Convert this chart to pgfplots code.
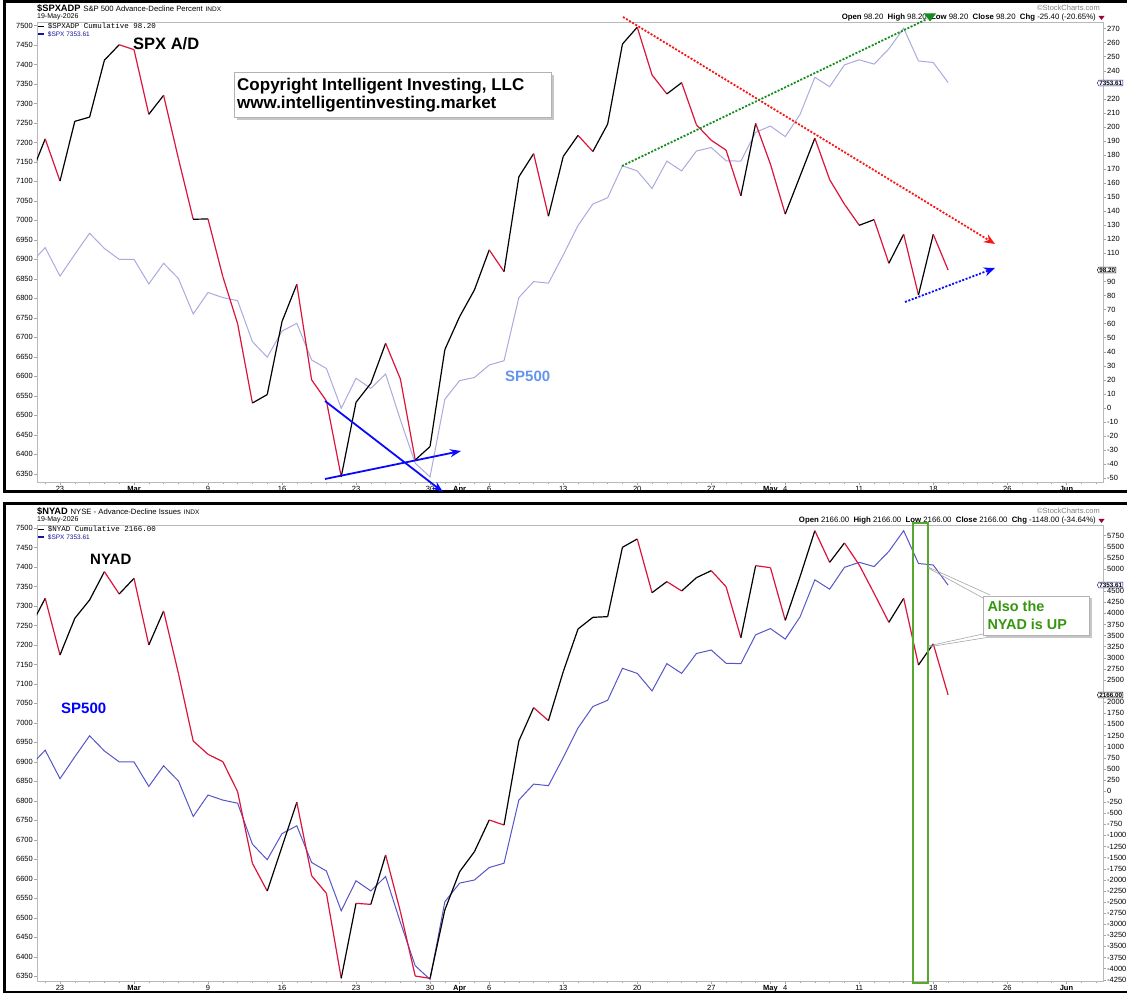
\documentclass[border=0pt]{standalone}
\usepackage{pgfplots}
\pgfplotsset{compat=1.18}
\usepackage{pgfplotstable}
\usepackage{fontspec}
\setmainfont{Liberation Sans}
\setmonofont{Liberation Mono}
\usetikzlibrary{arrows.meta,shapes.symbols}

\definecolor{adred}{RGB}{220,20,60}
\definecolor{spxlight}{RGB}{170,170,222}
\definecolor{spxblue}{RGB}{85,85,200}
\definecolor{navyl}{RGB}{20,20,150}
\definecolor{calloutgreen}{RGB}{55,150,15}
\definecolor{boxgreen}{RGB}{85,170,45}
\definecolor{cornblue}{RGB}{100,149,237}
\definecolor{arrowblue}{RGB}{10,10,250}
\definecolor{dotred}{RGB}{250,20,20}
\definecolor{dotgreen}{RGB}{20,140,30}
\definecolor{chgred}{RGB}{160,0,50}

\pgfplotstableread{
i v
-2 6890
-1 6930
0 6857
1 6913
2 6967
3 6928
4 6900
5 6900
6 6837
7 6890
8 6851
9 6760
10 6815
11 6802
12 6794
13 6689
14 6649
15 6716
16 6736
17 6642
18 6620
19 6518
20 6595
21 6569
22 6606
23 6488
24 6377
25 6342
26 6541
27 6589
28 6597
29 6629
30 6640
31 6802
32 6843
33 6839
34 6911
35 6987
36 7042
37 7058
38 7140
39 7127
40 7082
41 7152
42 7127
43 7178
44 7187
45 7153
46 7152
47 7226
48 7242
49 7215
50 7272
51 7367
52 7343
53 7399
54 7412
55 7401
56 7440
57 7493
58 7409
59 7405
60 7353.61
}\spxdata

\pgfplotstableread{
i a m
-2 165 1
-1 191.5 0
0 161.5 1
1 204 1
2 207 1
3 247.5 1
4 258.5 0
5 255 0
6 209 1
7 222.5 0
8 177.5 0
9 134.3 1
10 134.5 0
11 93.5 0
12 60 0
13 3.5 1
14 9.5 1
15 61.5 1
16 88 0
17 20 0
18 5 0
19 -49 1
20 4 1
21 17.5 1
22 46 0
23 20.5 0
24 -37 1
25 -27.5 1
26 41.5 1
27 65 1
28 84 1
29 112.5 0
30 97 1
31 164.5 1
32 181 0
33 136.5 1
34 179 1
35 194 0
36 182.5 1
37 202 1
38 259 1
39 271 0
40 237 0
41 223.5 1
42 231.5 0
43 201.5 0
44 190.5 0
45 183.5 0
46 151 1
47 202.5 0
48 173.5 0
49 138 1
50 165 1
51 192 0
52 162.5 0
53 145 0
54 130 1
55 134 0
56 103 1
57 123.6 0
58 80.4 1
59 123.6 0
60 98.2 0
}\adtop

\pgfplotstableread{
i a m
-2 3701 1
-1 4339 0
0 3063 1
1 3889 1
2 4302 1
3 4940 0
4 4437 1
5 4790 0
6 3288 1
7 4054 0
8 2650 0
9 1126 0
10 826 0
11 661 0
12 -15 0
13 -1629 0
14 -2252 1
15 -1254 1
16 -255 0
17 -1907 0
18 -2305 0
19 -4219 1
20 -2530 0
21 -2553 1
22 -1441 0
23 -2718 0
24 -4167 0
25 -4219 1
26 -2680 1
27 -1817 1
28 -1366 1
29 -653 0
30 -766 1
31 1126 1
32 1877 0
33 1584 1
34 2688 1
35 3649 1
36 3911 1
37 3927 1
38 5488 1
39 5676 0
40 4467 1
41 4715 0
42 4505 1
43 4805 1
44 4962 0
45 4602 0
46 3453 1
47 5075 0
48 5030 0
49 3844 1
50 4827 1
51 5863 0
52 5150 1
53 5586 0
54 5090 0
55 4452 0
56 3799 1
57 4339 0
58 2838 1
59 3314 0
60 2166 0
}\adbot

\newcommand{\fs}[1]{\fontsize{#1}{#1}\selectfont}

\pgfplotsset{
  panel/.style={
    width=1066pt, height=460pt, scale only axis, anchor=south west,
    xmin=-1.554, xmax=70.47, clip=true,
    tick label style={font=\fs{7.5}, inner sep=1pt},
    tick style={gray!70, line width=0.4pt},
    major tick length=3pt, minor tick length=2pt, tick align=outside,
    /pgf/number format/1000 sep={},
    /pgf/number format/assume math mode=true,
    axis line style={gray!55, line width=0.5pt},
  },
  leftax/.style={panel, ymin=6328.9, ymax=7509, ytick={6350,6400,...,7500}, ytick pos=left,
    xtick pos=bottom,
    xtick={0,5,10,15,20,25,27,29,34,39,44,48,49,54,59,64,68},
    xticklabels={23,\textbf{Mar},9,16,23,30,\textbf{Apr},6,13,20,27,\textbf{May},4,11,18,26,\textbf{Jun}},
    minor xtick={-1,0,...,70},
  },
  rightax/.style={panel, axis x line=none, axis y line*=right, xtick=\empty,
    colormap={rb}{rgb255(0cm)=(220,20,60); rgb255(1cm)=(0,0,0)},
    point meta min=0, point meta max=1,
  },
}
\tikzset{
  valtag/.style={signal, signal to=west, signal pointer angle=120, fill=white,
    inner sep=0.6pt, font=\fs{6.3}\bfseries, anchor=west},
}

\begin{document}
\begin{tikzpicture}[x=1pt,y=1pt]
\path[use as bounding box] (0,0) rectangle (1127,993);

% ---------------- TOP PANEL ----------------
\begin{axis}[leftax, at={(37pt,511pt)}]
\addplot[spxlight, line width=1pt] table[x=i,y=v]{\spxdata};
\end{axis}
\begin{axis}[rightax, at={(37pt,511pt)}, ymin=-52.7, ymax=274.7,
  ytick={-50,-40,...,90,110,120,...,220,240,250,260,270}]
\addplot[mesh, shader=flat corner, point meta=\thisrow{m}, line width=1.2pt] table[x=i,y=a]{\adtop};
\end{axis}

% ---------------- BOTTOM PANEL ----------------
\begin{axis}[leftax, at={(37pt,12pt)}, height=456pt, ymin=6337.9, ymax=7507.7]
\addplot[spxblue, line width=1pt] table[x=i,y=v]{\spxdata};
\end{axis}
\begin{axis}[rightax, at={(37pt,12pt)}, height=456pt, ymin=-4279, ymax=5991,
  ytick={-4250,-4000,...,2000,2500,2750,...,4500,5000,5250,5500,5750}]
\addplot[mesh, shader=flat corner, point meta=\thisrow{m}, line width=1.2pt] table[x=i,y=a]{\adbot};
\end{axis}

% ---------------- frames ----------------
\draw[line width=3pt] (1135,991.5) -- (4.5,991.5) -- (4.5,501) -- (1135,501);
\draw[line width=3pt] (1135,489.5) -- (4.5,489.5) -- (4.5,0.5) -- (1135,0.5);

% ---------------- headers top ----------------
\node[anchor=base west, inner sep=0] at (37,981.3) {{\fs{9.3}\bfseries \$SPXADP}\ {\fs{7.7}S\&P 500 Advance-Decline Percent}\ {\fs{6.5}INDX}};
\node[anchor=base west, inner sep=0, font=\fs{7}] at (37,974.5) {19-May-2026};
\draw[black, line width=1.3pt] (38,966.5) -- (44,966.5);
\node[anchor=base west, inner sep=0, font=\ttfamily\fs{7.5}] at (47.7,964) {\$SPXADP Cumulative 98.20};
\draw[navyl, line width=1.3pt] (38,959) -- (44,959);
\node[anchor=base west, inner sep=0, font=\fs{6.5}, text=navyl] at (47.7,956.5) {\$SPX 7353.61};
\node[anchor=base east, inner sep=0, font=\fs{7.5}, text=gray] at (1100,982.5) {©StockCharts.com};
\node[anchor=base east, inner sep=0, font=\fs{7.8}] at (1096,973.5) {\textbf{Open} 98.20\ \ \textbf{High} 98.20\ \ \textbf{Low} 98.20\ \ \textbf{Close} 98.20\ \ \textbf{Chg} -25.40 (-20.65\%)};
\fill[chgred] (1098.5,977) -- (1104.5,977) -- (1101.5,973) -- cycle;

% ---------------- headers bottom ----------------
\node[anchor=base west, inner sep=0] at (37,478.3) {{\fs{9.3}\bfseries \$NYAD}\ {\fs{7.7}NYSE - Advance-Decline Issues}\ {\fs{6.5}INDX}};
\node[anchor=base west, inner sep=0, font=\fs{7}] at (37,471.5) {19-May-2026};
\draw[black, line width=1.3pt] (38,463.5) -- (44,463.5);
\node[anchor=base west, inner sep=0, font=\ttfamily\fs{7.5}] at (47.7,461) {\$NYAD Cumulative 2166.00};
\draw[navyl, line width=1.3pt] (38,456) -- (44,456);
\node[anchor=base west, inner sep=0, font=\fs{6.5}, text=navyl] at (47.7,453.5) {\$SPX 7353.61};
\node[anchor=base east, inner sep=0, font=\fs{7.5}, text=gray] at (1100,479.5) {©StockCharts.com};
\node[anchor=base east, inner sep=0, font=\fs{7.8}] at (1096,470.5) {\textbf{Open} 2166.00\ \ \textbf{High} 2166.00\ \ \textbf{Low} 2166.00\ \ \textbf{Close} 2166.00\ \ \textbf{Chg} -1148.00 (-34.64\%)};
\fill[chgred] (1098.5,474) -- (1104.5,474) -- (1101.5,470) -- cycle;

% ---------------- value tags ----------------
\node[valtag, draw=navyl] at (1097,910) {7353.61};
\node[valtag, draw=black] at (1097,723) {98.20};
\node[valtag, draw=navyl] at (1097,408) {7353.61};
\node[valtag, draw=black] at (1097,298) {2166.00};

% ---------------- top annotations ----------------
\node[anchor=base west, inner sep=0, font=\fs{16.5}\bfseries] at (133,943) {SPX A/D};
\fill[gray!45] (236.8,872.8) rectangle (553.5,917.8);
\draw[gray!60, fill=white] (234.3,920.3) rectangle (551,875.3);
\node[anchor=base west, inner sep=0, font=\fs{17}\bfseries] at (237,902.5) {Copyright Intelligent Investing, LLC};
\node[anchor=base west, inner sep=0, font=\fs{17}\bfseries] at (237,884.5) {www.intelligentinvesting.market};
\node[anchor=base west, inner sep=0, font=\fs{15}\bfseries, text=cornblue] at (505,611) {SP500};

\draw[arrowblue, line width=1.8pt, -{Stealth[length=11pt,width=8pt]}] (325,592) -- (443,501);
\draw[arrowblue, line width=1.8pt, -{Stealth[length=11pt,width=8pt]}] (325,514) -- (461,542);
\draw[dotred, line width=1.8pt, dash pattern=on 2pt off 1.6pt, -{Stealth[length=11pt,width=9pt]}] (623,976) -- (995,749);
\draw[dotgreen, line width=1.8pt, dash pattern=on 2pt off 1.6pt] (622,827) -- (927,974);
\fill[dotgreen] (924,979.5) -- (936,979.5) -- (930,971.5) -- cycle;
\draw[arrowblue, line width=1.8pt, dash pattern=on 2pt off 1.6pt, -{Stealth[length=11pt,width=9pt]}] (905,691) -- (995,725);

% ---------------- bottom annotations ----------------
\node[anchor=base west, inner sep=0, font=\fs{15}\bfseries] at (90,428) {NYAD};
\node[anchor=base west, inner sep=0, font=\fs{15}\bfseries, text=blue] at (61,279) {SP500};
\draw[boxgreen, line width=1.8pt] (913.3,470) rectangle (928.3,10);
\draw[gray!70, line width=0.6pt] (928,426) -- (990,398) (928,425) -- (983,395);
\draw[gray!70, line width=0.6pt] (928,347) -- (983,359) (928,346) -- (990,356);
\fill[gray!45] (985.8,355) rectangle (1091.8,394.5);
\draw[gray!60, fill=white] (983.3,397) rectangle (1089.3,358);
\node[anchor=base west, inner sep=0, font=\fs{14.4}\bfseries, text=calloutgreen] at (987.3,381.3) {Also the};
\node[anchor=base west, inner sep=0, font=\fs{14.4}\bfseries, text=calloutgreen] at (987.3,363.7) {NYAD is UP};
\end{tikzpicture}
\end{document}
